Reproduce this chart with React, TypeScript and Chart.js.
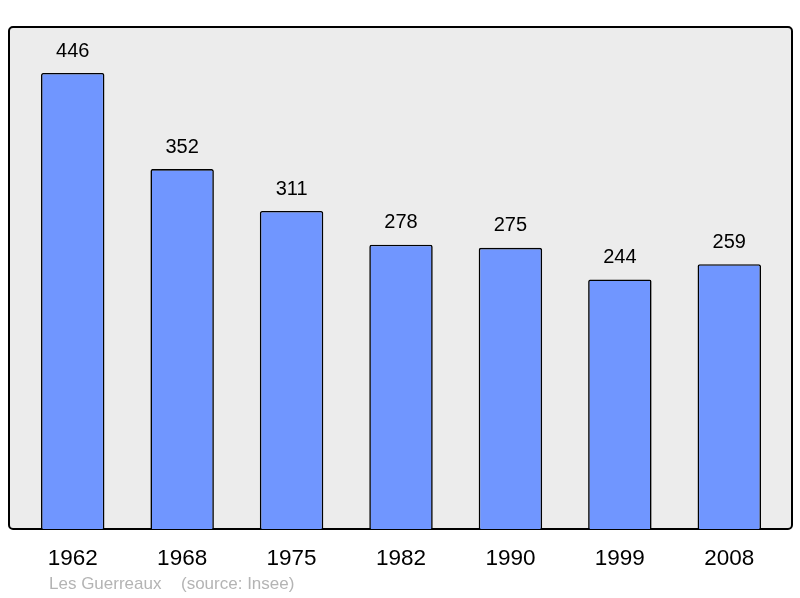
import React, { useEffect, useRef } from 'react';
import { Chart, registerables } from 'chart.js';

Chart.register(...registerables);

const YEARS = ['1962', '1968', '1975', '1982', '1990', '1999', '2008'];
const POPULATION = [446, 352, 311, 278, 275, 244, 259];
const FOOTER_PLACE = 'Les Guerreaux';
const FOOTER_SOURCE = '(source: Insee)';

const FONT = '"Liberation Sans", Arial, sans-serif';

// grey frame behind the plot, value labels and footer
const decorPlugin = {
  id: 'decor',
  beforeDatasetsDraw(chart: any) {
    const { ctx, chartArea } = chart;
    const x = chartArea.left - 9;
    const y = chartArea.top - 1;
    const w = chartArea.right - chartArea.left + 17;
    const h = chartArea.bottom - chartArea.top + 1;
    ctx.save();
    ctx.beginPath();
    ctx.roundRect(x, y, w, h, 4);
    ctx.fillStyle = '#ececec';
    ctx.fill();
    ctx.lineWidth = 2;
    ctx.strokeStyle = '#000';
    ctx.stroke();
    ctx.restore();
  },
  afterDatasetsDraw(chart: any) {
    const { ctx } = chart;
    const meta = chart.getDatasetMeta(0);
    ctx.save();
    ctx.font = `20px ${FONT}`;
    ctx.fillStyle = '#000';
    ctx.textAlign = 'center';
    ctx.textBaseline = 'middle';
    meta.data.forEach((bar: any, i: number) => {
      ctx.fillText(String(POPULATION[i]), bar.x, bar.y - 22);
    });
    ctx.font = `17px ${FONT}`;
    ctx.fillStyle = '#b4b4b4';
    ctx.textAlign = 'left';
    ctx.fillText(FOOTER_PLACE, 49, 584);
    ctx.fillText(FOOTER_SOURCE, 181, 584);
    ctx.restore();
  },
};

const App: React.FC = () => {
  const canvasRef = useRef<HTMLCanvasElement>(null);
  const chartRef = useRef<Chart | null>(null);

  useEffect(() => {
    if (chartRef.current) chartRef.current.destroy();
    if (!canvasRef.current) return;
    chartRef.current = new Chart(canvasRef.current, {
      type: 'bar',
      data: {
        labels: YEARS,
        datasets: [
          {
            data: POPULATION,
            backgroundColor: '#7096ff',
            borderColor: '#000',
            borderWidth: 1.6,
            borderRadius: 2,
            borderSkipped: 'bottom',
            barPercentage: 0.58,
            categoryPercentage: 1,
          },
        ],
      },
      options: {
        animation: false,
        responsive: true,
        maintainAspectRatio: false,
        layout: { padding: { left: 18, right: 16, top: 28, bottom: 18 } },
        plugins: {
          legend: { display: false },
          tooltip: { enabled: false },
        },
        scales: {
          x: {
            grid: { display: false },
            border: { display: false },
            ticks: { color: '#000', font: { family: FONT, size: 22.5 }, padding: 8 },
          },
          y: { display: false, min: 0, max: 490 },
        },
      },
      plugins: [decorPlugin],
    });
    return () => {
      if (chartRef.current) {
        chartRef.current.destroy();
        chartRef.current = null;
      }
    };
  }, []);

  return (
    <div style={{ position: 'fixed', left: 0, top: 0, width: 800, height: 598, background: '#fff' }}>
      <canvas ref={canvasRef}></canvas>
    </div>
  );
};

export default App;
